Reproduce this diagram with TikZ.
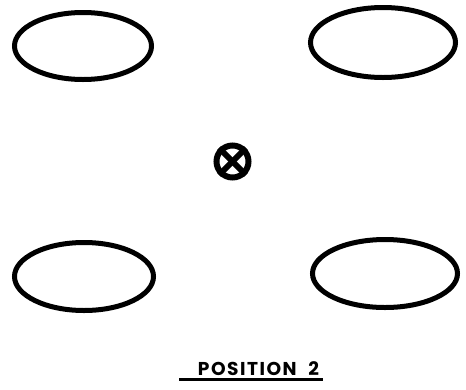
\documentclass[tikz,border=0pt]{standalone}
\usepackage{fontspec}
\newfontfamily\labelfont{Poppins}
\usetikzlibrary{shapes.geometric}
\newcommand{\lk}{\kern1.5pt}
\begin{document}
\begin{tikzpicture}[x=1pt,y=-1pt,
  hole/.style={draw=black, ellipse, line width=5pt, inner sep=0pt},
  cross/.style={draw=black, circle, line width=6pt, minimum size=32pt, inner sep=0pt},
  caption/.style={font=\labelfont\bfseries\fontsize{18.6}{19}\selectfont, inner sep=0pt, anchor=base}]
\useasboundingbox[fill=white] (0,0) rectangle (466,389);
\node[hole, minimum width=137pt, minimum height=67pt] (tl) at (83,46) {};
\node[hole, minimum width=145pt, minimum height=70pt] (tr) at (383,42.5) {};
\node[hole, minimum width=139pt, minimum height=68pt] (bl) at (84,276.5) {};
\node[hole, minimum width=145pt, minimum height=68pt] (br) at (385,273.5) {};
\node[cross] (c) at (232.5,161.5) {};
\draw[line width=6pt] (c.north west) -- (c.south east);
\draw[line width=6pt] (c.north east) -- (c.south west);
\node[caption] (cap) at (258.5,375) {P\lk O\lk S\lk I\lk T\lk I\lk O\lk N\ \ \ 2};
\coordinate (ul1) at (179,379.5);
\coordinate (ul2) at (323,379.5);
\draw[line width=2.5pt] (ul1) -- (ul2);
\end{tikzpicture}
\end{document}
